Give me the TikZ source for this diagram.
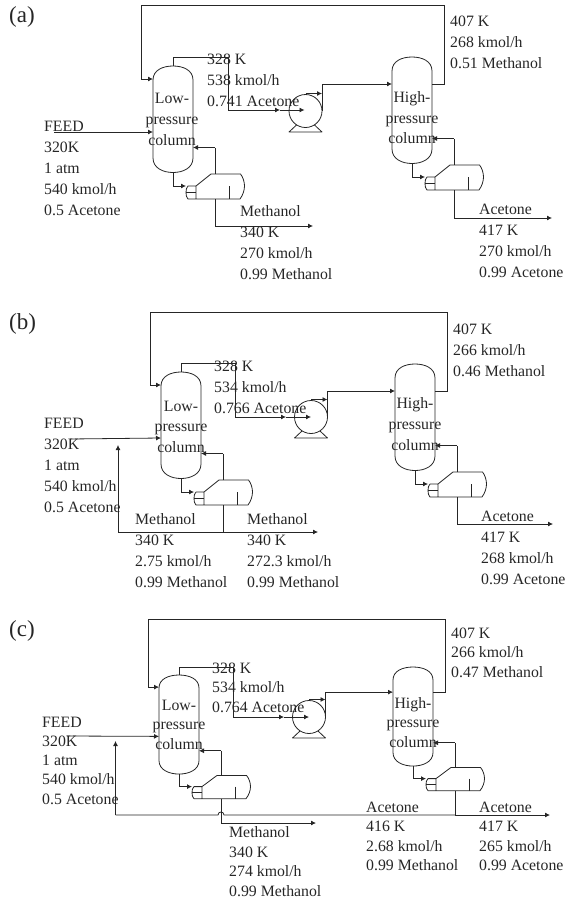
\documentclass[tikz,border=0pt]{standalone}
\usepackage{fontspec}
\setmainfont{Liberation Serif}
\usetikzlibrary{arrows.meta,calc}
\definecolor{ink}{HTML}{262626}
\tikzset{
  flow/.style={draw=ink,line width=0.8pt},
  arrowflow/.style={flow,-{Latex[length=5pt,width=5pt]}},
  equip/.style={draw=ink,line width=0.8pt,line join=round},
  panel/.style={font=\fontsize{23}{23}\selectfont,text=ink,anchor=west,inner sep=0pt},
  pumpbody/.style={circle,draw=ink,line width=0.8pt,minimum size=33pt,inner sep=0pt}
}
% column with reboiler: prefix, centre x, top y, vertical scale
\newcommand{\colunit}[4]{%
  \begin{scope}[shift={(#2,#3)},yscale=#4]
    \draw[equip] (-20,14) .. controls (-20,4) and (-10,0) .. (0,0)
      .. controls (10,0) and (20,4) .. (20,14) -- (20,92)
      .. controls (20,102) and (10,106.5) .. (0,106.5)
      .. controls (-10,106.5) and (-20,102) .. (-20,92) -- cycle;
    \draw[equip] (23,120) -- (15,120) .. controls (13.5,121) and (13,124) .. (13,126.5)
      .. controls (13,129) and (13.5,132) .. (15,133) -- (67,133)
      .. controls (70,129) and (71.5,124) .. (71.5,120)
      .. controls (71.5,116) and (70,111) .. (67.5,108) -- (38,108) -- (23,120) -- (23,133);
    \draw[equip] (13,126.5) -- (23,126.5);
    \draw[equip] (56,120) -- (56,133);
    \coordinate (#1top) at (0,0);
    \coordinate (#1bot) at (0,106.5);
    \coordinate (#1in) at (-20,13);
    \coordinate (#1feed) at (-20,66);
    \coordinate (#1pin) at (-20,27);
    \coordinate (#1side) at (20,27);
    \coordinate (#1ret) at (20,81.5);
    \coordinate (#1rv) at (42,81.5);
    \coordinate (#1rt) at (42,108);
    \coordinate (#1head) at (13,120);
    \coordinate (#1out) at (42,133);
  \end{scope}
  \draw[flow] (#1rt) -- (#1rv);
  \draw[arrowflow] (#1rv) -- (#1ret);
  \draw[arrowflow] (#1bot) |- (#1head);
}
% pump: name, centre x, centre y
\newcommand{\pumpunit}[3]{%
  \node[pumpbody] (#1) at (#2,#3) {};
  \draw[equip] ($(#1.center)+(-9,14)$) -- ($(#1.center)+(-16.5,21)$) -- ($(#1.center)+(16.5,21)$) -- ($(#1.center)+(9,14)$);
  \coordinate (#1rim) at ($(#1.center)+(16.5,0)$);
  \coordinate (#1up) at ($(#1.center)+(0,-17.5)$);
  \coordinate (#1tap) at ($(#1.center)+(16.5,-17.5)$);
}
% text block: name, x, y of first line centre, leading, text
\newcommand{\stream}[5]{%
  \node[anchor=north west,inner sep=0pt,align=left,text=ink,font=\fontsize{15.8}{#4}\selectfont] (#1) at (#2,#3-5.5) {#5};
}
\newcommand{\collabel}[5]{%
  \node[anchor=north,inner sep=0pt,align=center,text=ink,font=\fontsize{15.8}{#4}\selectfont] (#1) at (#2,#3-5.5) {#5};
}
\begin{document}
\begin{tikzpicture}[x=1pt,y=-1pt]
\useasboundingbox (0,0) rectangle (574,900);
% ===== panel a =====
\node[panel] (la) at (9,17) {(a)};
\colunit{aL}{173}{66}{1}
\colunit{aH}{412}{57}{1}
\pumpunit{aP}{305.5}{111}
\coordinate (a1) at (228,57);
\coordinate (a2) at (228,110);
\coordinate (a3) at (280,110);
\draw[flow] (aLtop) |- (a1) -- (a2);
\draw[arrowflow] (a2) -- (a3);
\draw[arrowflow] (a3) -- ($(aP.center)+(-1,-1)$);
\draw[arrowflow] (aPup) -- (aPtap);
\draw[arrowflow] (aPrim) |- (aHpin);
\coordinate (a4) at (444,5);
\coordinate (a5) at (141,5);
\draw[arrowflow] (aHside) -| (a4) -- (a5) |- (aLin);
\coordinate (af) at (54,132);
\draw[arrowflow] (af) -- (aLfeed);
\coordinate (a6) at (215,226);
\coordinate (a7) at (313,226);
\draw[flow] (aLout) -- (a6);
\draw[arrowflow] (a6) -- (a7);
\coordinate (a8) at (454,218);
\coordinate (a9) at (552,218);
\draw[flow] (aHout) -- (a8);
\draw[arrowflow] (a8) -- (a9);
\stream{af1}{44}{126}{21}{FEED\\320K\\1 atm\\540 kmol/h\\0.5 Acetone}
\stream{at1}{207}{59}{21}{328 K\\538 kmol/h\\0.741 Acetone}
\stream{at2}{240}{211}{21}{Methanol\\340 K\\270 kmol/h\\0.99 Methanol}
\stream{at3}{450}{21}{21}{407 K\\268 kmol/h\\0.51 Methanol}
\stream{at4}{479}{209}{21}{Acetone\\417 K\\270 kmol/h\\0.99 Acetone}
\collabel{acl}{172}{98}{21}{Low-\\pressure\\column}
\collabel{ach}{412}{97}{20.5}{High-\\pressure\\column}
% ===== panel b =====
\node[panel] (lb) at (9,324) {(b)};
\colunit{bL}{181}{372}{1}
\colunit{bH}{415}{364}{1}
\pumpunit{bP}{311}{417}
\coordinate (b1) at (235,363);
\coordinate (b2) at (235,417);
\coordinate (b3) at (286,417);
\draw[flow] (bLtop) |- (b1) -- (b2);
\draw[arrowflow] (b2) -- (b3);
\draw[arrowflow] (b3) -- (bP.center);
\draw[arrowflow] (bPup) -- (bPtap);
\draw[arrowflow] (bPrim) |- (bHpin);
\coordinate (b4) at (447,312);
\coordinate (b5) at (150,312);
\draw[arrowflow] (bHside) -| (b4) -- (b5) |- (bLin);
\coordinate (bf) at (70,439);
\draw[arrowflow] (bf) -- (bLfeed);
\coordinate (b6) at (223,532);
\coordinate (b7) at (318,532);
\coordinate (b8) at (118,532);
\coordinate (b9) at (118,445);
\draw[flow] (bLout) -- (b6);
\draw[arrowflow] (b6) -- (b7);
\draw[flow] (b6) -- (b8);
\draw[arrowflow] (b8) -- (b9);
\coordinate (b10) at (457,524);
\coordinate (b11) at (553,524);
\draw[flow] (bHout) -- (b10);
\draw[arrowflow] (b10) -- (b11);
\stream{bf1}{44}{423}{21}{FEED\\320K\\1 atm\\540 kmol/h\\0.5 Acetone}
\stream{bt1}{214}{366}{21}{328 K\\534 kmol/h\\0.766 Acetone}
\stream{bt2}{135}{519}{21}{Methanol\\340 K\\2.75 kmol/h\\0.99 Methanol}
\stream{bt3}{247}{519}{21}{Methanol\\340 K\\272.3 kmol/h\\0.99 Methanol}
\stream{bt4}{453}{329}{21}{407 K\\266 kmol/h\\0.46 Methanol}
\stream{bt5}{481}{516}{21}{Acetone\\417 K\\268 kmol/h\\0.99 Acetone}
\collabel{bcl}{181}{406}{20.5}{Low-\\pressure\\column}
\collabel{bch}{415}{403}{21}{High-\\pressure\\column}
% ===== panel c =====
\node[panel] (lc) at (9,631) {(c)};
\colunit{cL}{179}{675}{0.93}
\colunit{cH}{413}{667}{0.93}
\pumpunit{cP}{309}{717}
\coordinate (c1) at (233,667);
\coordinate (c2) at (233,717);
\coordinate (c3) at (284,717);
\draw[flow] (cLtop) |- (c1) -- (c2);
\draw[arrowflow] (c2) -- (c3);
\draw[arrowflow] (c3) -- (cP.center);
\draw[arrowflow] (cPup) -- (cPtap);
\draw[arrowflow] (cPrim) |- (cHpin);
\coordinate (c4) at (445,619);
\coordinate (c5) at (148,619);
\draw[arrowflow] (cHside) -| (c4) -- (c5) |- (cLin);
\coordinate (cf) at (67,736);
\draw[arrowflow] (cf) -- (cLfeed);
\coordinate (c6) at (221,823);
\coordinate (c7) at (316,823);
\draw[flow] (cLout) -- (c6);
\draw[arrowflow] (c6) -- (c7);
\coordinate (c8) at (455,815);
\coordinate (c9) at (550,815);
\coordinate (c10) at (224,815);
\coordinate (c11) at (218,815);
\coordinate (c12) at (115.5,815);
\coordinate (c13) at (115.5,741);
\draw[flow] (cHout) -- (c8);
\draw[arrowflow] (c8) -- (c9);
\draw[flow] (c8) -- (c10) .. controls (224,811) and (218,811) .. (c11) -- (c12);
\draw[arrowflow] (c12) -- (c13);
\stream{cf1}{42}{722}{19.3}{FEED\\320K\\1 atm\\540 kmol/h\\0.5 Acetone}
\stream{ct1}{212}{668}{19.5}{328 K\\534 kmol/h\\0.764 Acetone}
\stream{ct2}{229}{832}{19.5}{Methanol\\340 K\\274 kmol/h\\0.99 Methanol}
\stream{ct3}{366}{807}{19.5}{Acetone\\416 K\\2.68 kmol/h\\0.99 Methanol}
\stream{ct4}{479}{807}{19.5}{Acetone\\417 K\\265 kmol/h\\0.99 Acetone}
\stream{ct5}{451}{633}{19.7}{407 K\\266 kmol/h\\0.47 Methanol}
\collabel{ccl}{179}{705}{19.5}{Low-\\pressure\\column}
\collabel{cch}{413}{703}{19.2}{High-\\pressure\\column}
\end{tikzpicture}
\end{document}
